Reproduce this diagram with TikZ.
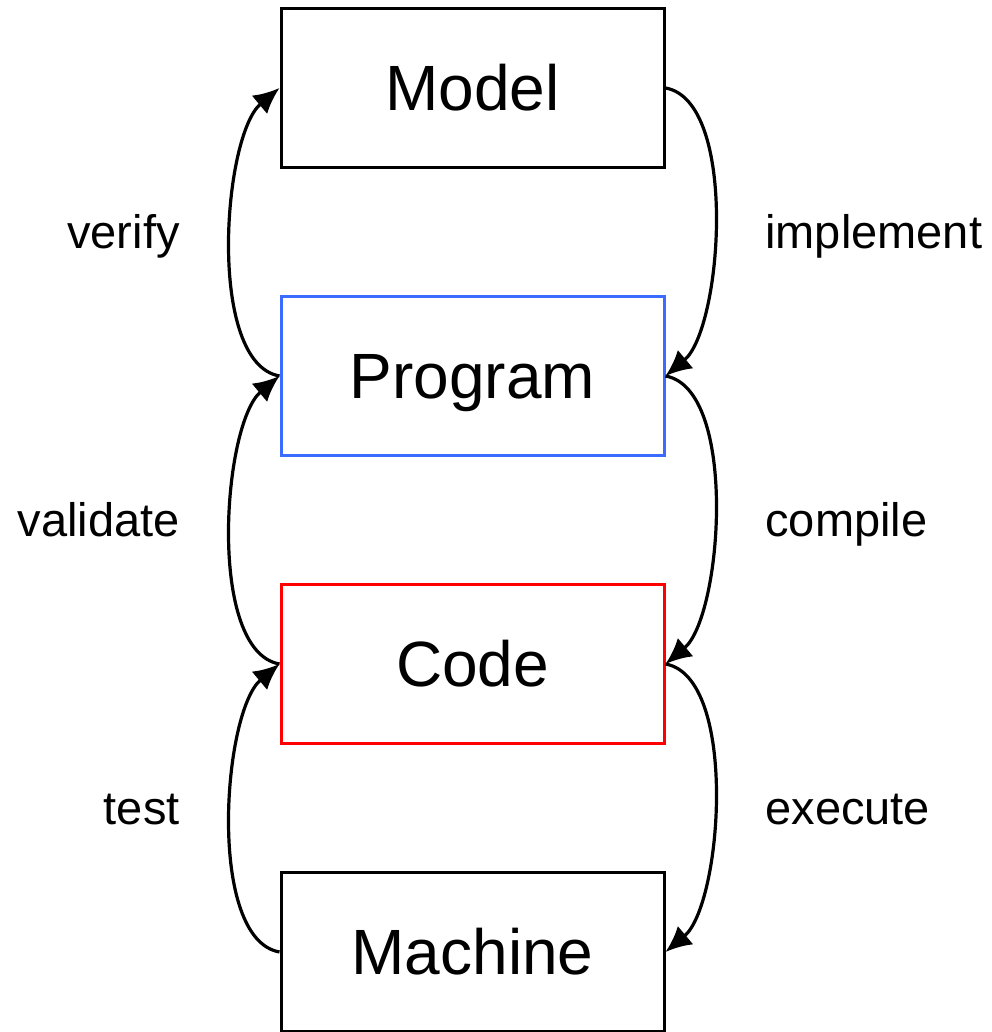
\documentclass[tikz,border=0pt]{standalone}
\usepackage{fontspec}
\setmainfont{Liberation Sans}
\usetikzlibrary{arrows.meta}
\definecolor{progblue}{RGB}{59,108,255}
\definecolor{codered}{RGB}{255,0,0}
\tikzset{
  lvl/.style={rectangle, draw=black, line width=1.5pt, fill=white,
              minimum width=191.5pt, minimum height=79.5pt, inner sep=0pt,
              font=\fontsize{32}{38}\selectfont, text height=23pt, text depth=0pt},
  lvlB/.style={lvl, draw=progblue},
  lvlR/.style={lvl, draw=codered},
  edgelbl/.style={inner sep=0pt, font=\fontsize{23.5}{28}\selectfont,
                  text height=16.8pt, text depth=0pt},
  ar/.style={-{Latex[length=13pt, width=12pt]}, line width=1.6pt},
}

\begin{document}
\begin{tikzpicture}[x=0.5pt, y=0.5pt]
\useasboundingbox (0,0) rectangle (991,1032);

% ============================ levels ============================
\node[lvl]  (model)   at (472.5,944) {Model};
\node[lvlB] (program) at (472.5,656) {Program};
\node[lvlR] (code)    at (472.5,368) {Code};
\node[lvl]  (machine) at (472.5,80)  {Machine};

% ============================ downward (right) ==================
\draw[ar] (model.east)   to[out=-10, in=40, looseness=0.66] (program.east);
\draw[ar] (program.east) to[out=-10, in=40, looseness=0.66] (code.east);
\draw[ar] (code.east)    to[out=-10, in=40, looseness=0.66] (machine.east);

% ============================ upward (left) =====================
\draw[ar] (program.west) to[out=170, in=220, looseness=0.66] (model.west);
\draw[ar] (code.west)    to[out=170, in=220, looseness=0.66] (program.west);
\draw[ar] (machine.west) to[out=170, in=220, looseness=0.66] (code.west);

% ============================ labels ============================
\node[edgelbl, anchor=west] (lImpl) at (765,800) {implement};
\node[edgelbl, anchor=west] (lComp) at (765,512) {compile};
\node[edgelbl, anchor=west] (lExec) at (765,224) {execute};
\node[edgelbl, anchor=east] (lVer)  at (180,800) {verify};
\node[edgelbl, anchor=east] (lVal)  at (180,512) {validate};
\node[edgelbl, anchor=east] (lTest) at (180,224) {test};

\end{tikzpicture}
\end{document}
